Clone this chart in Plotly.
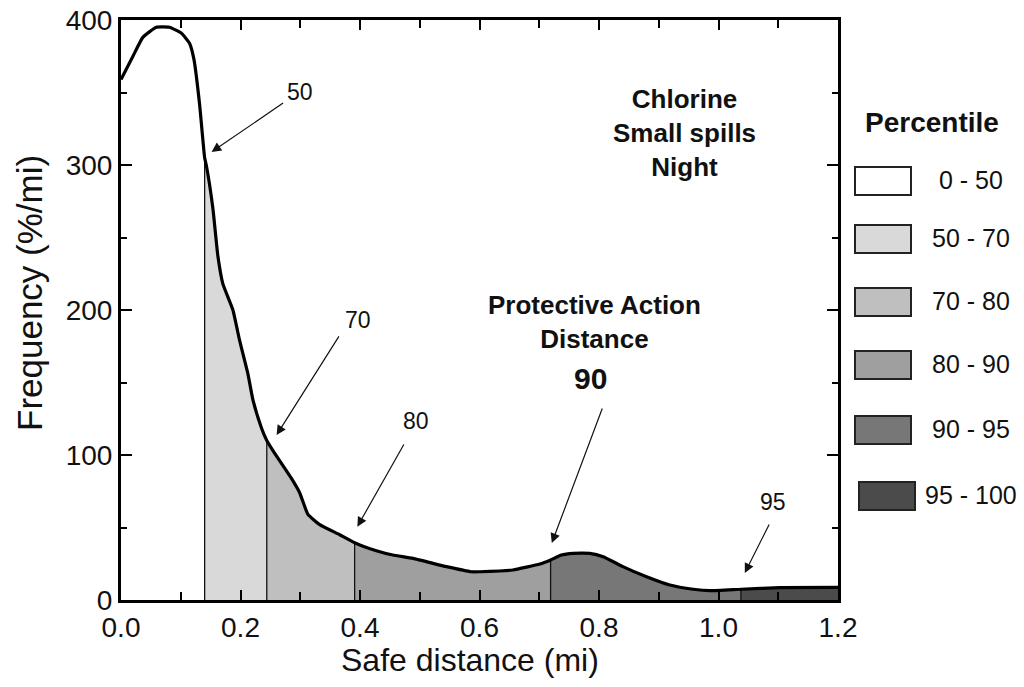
import plotly.graph_objects as go

# ---------------- data ----------------
distance = [0.0, 0.02, 0.0365, 0.059, 0.081, 0.1008, 0.1147, 0.122, 0.1315, 0.14,
            0.1427, 0.1538, 0.1622, 0.1705, 0.1873, 0.1985, 0.2124, 0.2208, 0.2348, 0.244,
            0.2543, 0.285, 0.299, 0.3129, 0.3325, 0.366, 0.391,
            0.4274, 0.455, 0.4887, 0.5447, 0.5865, 0.6004, 0.634, 0.656, 0.701, 0.719,
            0.737, 0.757, 0.7846, 0.807, 0.840, 0.8796, 0.9186, 0.9576, 0.9856, 1.0375,
            1.1028, 1.2]
frequency = [359, 375, 388, 395, 395, 391, 384, 373, 342, 305,
             300, 270, 237, 218, 200, 179, 156, 138, 119, 110,
             103, 84, 74, 59, 52, 45, 39.5,
             34, 31, 28.7, 23, 19.5, 19.5, 20, 20.7, 24.8, 27.6,
             31, 32.2, 32.2, 29.9, 23, 16, 10.3, 7.4, 6.4, 7.4,
             8.5, 8.7]

pct_bounds = [0.0, 0.14, 0.244, 0.391, 0.719, 1.0375, 1.2]
pct_labels = ["0 - 50", "50 - 70", "70 - 80", "80 - 90", "90 - 95", "95 - 100"]
pct_colors = ["#ffffff", "#d9d9d9", "#bfbfbf", "#9f9f9f", "#777777", "#4b4b4b"]

arrow_labels = ["50", "70", "80", "95"]
arrow_label_pos = [(0.299, 350.5), (0.396, 193), (0.493, 123.5), (1.091, 67.6)]
arrow_tails = [(0.2738, 343.4), (0.3663, 182.8), (0.4748, 108.3), (0.8064, 133.1), (1.086, 53.1)]
arrow_tips = [(0.1516, 309), (0.2604, 113.8), (0.3956, 50.6), (0.7210, 39.3), (1.044, 18.6)]

FONT = "Liberation Sans, Arial, Helvetica, sans-serif"

# ---------------- figure ----------------
W, H = 1024, 687
L, R, T, B = 121, 186, 20, 87
fig = go.Figure()

# filled percentile segments
for i in range(len(pct_labels)):
    lo, hi = pct_bounds[i], pct_bounds[i + 1]
    xs = [x for x in distance if lo <= x <= hi]
    ys = [y for x, y in zip(distance, frequency) if lo <= x <= hi]
    fig.add_trace(go.Scatter(x=xs, y=ys, mode="lines", fill="tozeroy",
                             fillcolor=pct_colors[i], line=dict(width=0, color=pct_colors[i]),
                             hoverinfo="skip", showlegend=False))

# vertical boundary lines
for b in pct_bounds[1:-1]:
    yb = frequency[distance.index(b)]
    fig.add_trace(go.Scatter(x=[b, b], y=[0, yb], mode="lines",
                             line=dict(color="#111111", width=1.3),
                             hoverinfo="skip", showlegend=False))

# main curve
fig.add_trace(go.Scatter(x=distance, y=frequency, mode="lines",
                         line=dict(color="black", width=3.2, shape="spline", smoothing=0.4),
                         hoverinfo="skip", showlegend=False))

annotations = []
# arrows
for (tx, ty), (hx, hy) in zip(arrow_tails, arrow_tips):
    annotations.append(dict(x=hx, y=hy, ax=tx, ay=ty, xref="x", yref="y",
                            axref="x", ayref="y", text="", showarrow=True,
                            arrowhead=2, arrowsize=1.6, arrowwidth=1.2,
                            arrowcolor="#111111", standoff=0, startstandoff=0))
for lab, (lx, ly) in zip(arrow_labels, arrow_label_pos):
    annotations.append(dict(x=lx, y=ly, xref="x", yref="y", text=lab, showarrow=False,
                            xanchor="center", yanchor="middle",
                            font=dict(family=FONT, size=23, color="#111111")))

annotations.append(dict(x=0.9437, y=322, xref="x", yref="y",
                        text="<b>Chlorine<br>Small spills<br>Night</b>", showarrow=False,
                        xanchor="center", yanchor="middle",
                        font=dict(family=FONT, size=26, color="#111111")))
annotations.append(dict(x=0.793, y=192, xref="x", yref="y",
                        text="<b>Protective Action<br>Distance</b>", showarrow=False,
                        xanchor="center", yanchor="middle",
                        font=dict(family=FONT, size=26, color="#111111")))
annotations.append(dict(x=0.785, y=152.5, xref="x", yref="y",
                        text="<b>90</b>", showarrow=False,
                        xanchor="center", yanchor="middle",
                        font=dict(family=FONT, size=30, color="#111111")))


def px_x(p):
    return (p - L) / (W - L - R)


def px_y(p):
    return (H - B - p) / (H - T - B)


# axis titles
annotations.append(dict(x=px_x(470), y=px_y(660), xref="paper", yref="paper",
                        text="Safe distance (mi)", showarrow=False,
                        xanchor="center", yanchor="middle",
                        font=dict(family=FONT, size=32, color="#111111")))
annotations.append(dict(x=px_x(29), y=px_y(293), xref="paper", yref="paper",
                        text="Frequency (%/mi)", showarrow=False, textangle=-90,
                        xanchor="center", yanchor="middle",
                        font=dict(family=FONT, size=35, color="#111111")))

# legend
annotations.append(dict(x=px_x(932), y=px_y(122), xref="paper", yref="paper",
                        text="<b>Percentile</b>", showarrow=False,
                        xanchor="center", yanchor="middle",
                        font=dict(family=FONT, size=28, color="#111111")))
shapes = []
box_tops = [167, 225, 288, 351, 416, 482]
for i, lab in enumerate(pct_labels):
    top = box_tops[i]
    x0 = 855 if i < 5 else 859
    shapes.append(dict(type="rect", xref="paper", yref="paper",
                       x0=px_x(x0), x1=px_x(x0 + 56), y0=px_y(top + 28), y1=px_y(top),
                       fillcolor=pct_colors[i], line=dict(color="#222222", width=2)))
    annotations.append(dict(x=px_x(971), y=px_y(top + 13), xref="paper", yref="paper",
                            text=lab, showarrow=False,
                            xanchor="center", yanchor="middle",
                            font=dict(family=FONT, size=25, color="#111111")))

axis_common = dict(showline=True, linewidth=3, linecolor="black", mirror="allticks",
                   ticks="inside", tickwidth=2, tickcolor="black", showgrid=False,
                   zeroline=False, automargin=False,
                   tickfont=dict(family=FONT, size=28, color="#111111"))

fig.update_layout(
    width=W, height=H,
    margin=dict(l=L, r=R, t=T, b=B),
    paper_bgcolor="white", plot_bgcolor="white",
    showlegend=False,
    xaxis=dict(range=[0, 1.2], dtick=0.2, tickformat=".1f", ticklen=10,
               minor=dict(dtick=0.1, ticks="inside", ticklen=8, tickwidth=2, tickcolor="black"),
               **axis_common),
    yaxis=dict(range=[0, 400], dtick=100, ticklen=11,
               minor=dict(dtick=50, ticks="inside", ticklen=6, tickwidth=2, tickcolor="black"),
               **axis_common),
    annotations=annotations,
    shapes=shapes,
)

fig.write_html("out.html")
